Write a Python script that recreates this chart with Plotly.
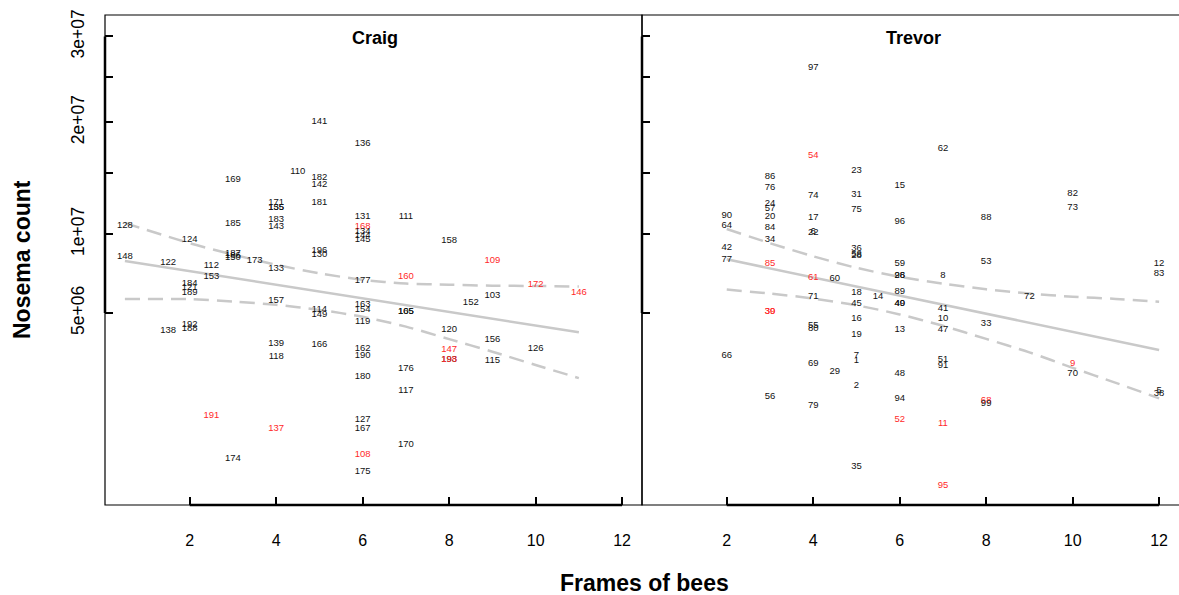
import numpy as np
import plotly.graph_objects as go

# ---- Craig apiary: colony id, frames of bees, Nosema count (millions) ----
craig_ids = [169, 171, 155, 135, 183, 143, 185, 128, 124, 148,
             122, 187, 186, 150, 173, 112, 153, 133, 184, 121,
             189, 157, 192, 188, 138, 139, 118, 191, 137, 174,
             141, 136, 110, 182, 142, 181, 131, 111, 168, 134,
             144, 145, 158, 196, 130, 177, 160, 163, 154, 114,
             149, 165, 105, 119, 166, 120, 147, 193, 198, 162,
             190, 176, 180, 117, 127, 167, 170, 108, 175, 109,
             172, 146, 103, 152, 156, 126, 115]
craig_frames = [3, 4, 4, 4, 4, 4, 3, 0.5, 2, 0.5,
                1.5, 3, 3, 3, 3.5, 2.5, 2.5, 4, 2, 2,
                2, 4, 2, 2, 1.5, 4, 4, 2.5, 4, 3,
                5, 6, 4.5, 5, 5, 5, 6, 7, 6, 6,
                6, 6, 8, 5, 5, 6, 7, 6, 6, 5,
                5, 7, 7, 6, 5, 8, 8, 8, 8, 6,
                6, 7, 6, 7, 6, 6, 7, 6, 6, 9,
                10, 11, 9, 8.5, 9, 10, 9]
craig_nosema_m = [14.40, 12.43, 12.06, 12.02, 11.06, 10.52, 10.75, 10.60, 9.557, 8.385,
                  7.963, 8.569, 8.433, 8.331, 8.096, 7.765, 7.082, 7.590, 6.676, 6.394,
                  6.119, 5.647, 4.423, 4.228, 4.099, 3.536, 2.970, 1.064, 0.781, 0.2746,
                  20.02, 17.81, 15.15, 14.64, 13.96, 12.45, 11.32, 11.32, 10.55, 10.15,
                  9.849, 9.608, 9.506, 8.776, 8.501, 6.835, 7.082, 5.426, 5.157, 5.157,
                  4.930, 5.067, 5.050, 4.552, 3.492, 4.147, 3.247, 2.838, 2.850, 3.289,
                  3.010, 2.494, 2.217, 1.755, 0.979, 0.767, 0.485, 0.3354, 0.1407, 8.116,
                  6.592, 6.101, 5.929, 5.536, 3.697, 3.302, 2.810]
craig_flagged = [191, 137, 168, 160, 147, 198, 108, 109, 172, 146]

# ---- Trevor apiary ----
trevor_ids = [97, 54, 86, 23, 76, 74, 31, 24, 57, 75,
              90, 20, 17, 64, 84, 22, 6, 34, 42, 36,
              58, 28, 77, 85, 61, 60, 18, 71, 45, 30,
              39, 16, 55, 80, 19, 66, 7, 1, 69, 29,
              2, 56, 79, 35, 62, 15, 96, 88, 59, 98,
              26, 8, 53, 89, 14, 40, 49, 41, 10, 33,
              47, 13, 51, 91, 48, 94, 68, 99, 52, 11,
              95, 82, 73, 12, 83, 72, 9, 70, 5, 38]
trevor_frames = [4, 4, 3, 5, 3, 4, 5, 3, 3, 5,
                 2, 3, 4, 2, 3, 4, 4, 3, 2, 5,
                 5, 5, 2, 3, 4, 4.5, 5, 4, 5, 3,
                 3, 5, 4, 4, 5, 2, 5, 5, 4, 4.5,
                 5, 3, 4, 5, 7, 6, 6, 8, 6, 6,
                 6, 7, 8, 6, 5.5, 6, 6, 7, 7, 8,
                 7, 6, 7, 7, 6, 6, 8, 8, 6, 7,
                 7, 10, 10, 12, 12, 9, 10, 10, 12, 12]
trevor_nosema_m = [26.17, 16.62, 14.70, 15.24, 13.72, 13.04, 13.10, 12.40, 11.96, 11.86,
                   11.40, 11.35, 11.27, 10.62, 10.47, 10.09, 10.15, 9.579, 9.035, 8.965,
                   8.501, 8.466, 8.162, 7.943, 7.020, 6.939, 6.142, 5.889, 5.520, 5.067,
                   5.050, 4.689, 4.354, 4.195, 3.911, 3.010, 2.998, 2.799, 2.709, 2.395,
                   1.914, 1.574, 1.320, 0.1882, 17.29, 13.87, 10.93, 11.24, 7.897, 7.170,
                   7.145, 7.145, 8.049, 6.177, 5.889, 5.520, 5.481, 5.210, 4.689, 4.473,
                   4.147, 4.147, 2.838, 2.606, 2.312, 1.507, 1.458, 1.385, 0.963, 0.873,
                   0.0445, 13.24, 12.04, 7.943, 7.296, 5.889, 2.709, 2.312, 1.761, 1.654]
trevor_flagged = [54, 85, 61, 30, 39, 68, 52, 11, 95, 9]

# ---- regression fit and confidence band (millions) ----
craig_band_x = [0.5, 2, 3, 4, 5, 6, 7, 8, 9, 10, 11]
craig_fit_m = [8.096, 7.429, 7.001, 6.586, 6.183, 5.798, 5.421, 5.056, 4.704, 4.364, 4.038]
craig_upper_m = [10.829, 9.326, 8.535, 7.844, 7.296, 6.890, 6.658, 6.592, 6.532, 6.514, 6.484]
craig_lower_m = [5.759, 5.748, 5.619, 5.437, 5.162, 4.801, 4.311, 3.724, 3.175, 2.644, 2.168]

trevor_band_x = [2, 3, 4, 5, 6, 7, 8, 9, 10, 11, 12]
trevor_fit_m = [8.209, 7.609, 7.038, 6.484, 5.952, 5.442, 4.961, 4.497, 4.057, 3.643, 3.247]
trevor_upper_m = [10.371, 9.326, 8.412, 7.648, 7.070, 6.658, 6.318, 6.072, 5.889, 5.765, 5.608]
trevor_lower_m = [6.300, 6.067, 5.787, 5.410, 4.925, 4.350, 3.733, 3.150, 2.538, 2.006, 1.527]

# ---- axes ----
x_ticks = [2, 4, 6, 8, 10, 12]
y_tick_counts = [5e6, 1e7, 1.5e7, 2e7, 2.5e7, 3e7]
y_tick_text = ["5e+06", "1e+07", "", "2e+07", "", "3e+07"]

W, H = 1179, 595
FONT = "Liberation Sans, Arial, Helvetica, sans-serif"
LINE_GREY = "#c9c9c9"


def sq(millions):
    """Square-root scale used on the vertical axis (input in millions)."""
    return np.sqrt(np.asarray(millions, dtype=float) * 1e6)


fig = go.Figure()

panels = [
    ("x", "y", craig_ids, craig_frames, craig_nosema_m, craig_flagged,
     craig_band_x, craig_fit_m, craig_upper_m, craig_lower_m),
    ("x2", "y2", trevor_ids, trevor_frames, trevor_nosema_m, trevor_flagged,
     trevor_band_x, trevor_fit_m, trevor_upper_m, trevor_lower_m),
]

for xa, ya, ids, frames, nos, flagged, bx, fit, up, lo in panels:
    for band in (up, lo):
        fig.add_trace(go.Scatter(
            x=bx, y=sq(band), xaxis=xa, yaxis=ya, mode="lines",
            line=dict(color=LINE_GREY, width=2.5, dash="15px,8px",
                      shape="spline", smoothing=0.8),
            hoverinfo="skip", showlegend=False))
    fig.add_trace(go.Scatter(
        x=bx, y=sq(fit), xaxis=xa, yaxis=ya, mode="lines",
        line=dict(color=LINE_GREY, width=2.5),
        hoverinfo="skip", showlegend=False))
    colors = ["#ff2a2a" if i in flagged else "#111111" for i in ids]
    fig.add_trace(go.Scatter(
        x=frames, y=sq(nos), xaxis=xa, yaxis=ya, mode="text",
        text=[str(i) for i in ids],
        textposition="middle center",
        textfont=dict(family=FONT, size=9.5, color=colors),
        hoverinfo="skip", showlegend=False, cliponaxis=False))

top_px, bottom_px = 15, 505
ydom = [(H - bottom_px) / H, (H - top_px) / H]
craig_dom = [105 / W, 642 / W]
trevor_dom = [642 / W, 1.0]
yrange = [-15, 5729]
xrange = [0.04, 12.46]

axis_common = dict(showgrid=False, zeroline=False, showline=False, automargin=False,
                   ticks="inside", ticklen=8, tickwidth=2, tickcolor="black")

fig.update_layout(
    template="none",
    width=W, height=H,
    margin=dict(l=0, r=0, t=0, b=0, pad=0),
    paper_bgcolor="white", plot_bgcolor="white",
    font=dict(family=FONT, color="black"),
    xaxis=dict(domain=craig_dom, range=xrange, anchor="y",
               tickvals=x_ticks, ticktext=[str(t) for t in x_ticks],
               tickfont=dict(size=16, color="black"), ticklabelstandoff=24,
               **axis_common),
    xaxis2=dict(domain=trevor_dom, range=xrange, anchor="y2",
                tickvals=x_ticks, ticktext=[str(t) for t in x_ticks],
                tickfont=dict(size=16, color="black"), ticklabelstandoff=24,
                **axis_common),
    yaxis=dict(domain=ydom, range=yrange, anchor="x",
               tickvals=list(np.sqrt(y_tick_counts)), ticktext=y_tick_text,
               tickangle=-90, tickfont=dict(size=17.5, color="black"),
               ticklabelstandoff=17, **axis_common),
    yaxis2=dict(domain=ydom, range=yrange, anchor="x2", matches="y",
                tickvals=list(np.sqrt(y_tick_counts)), showticklabels=False,
                **axis_common),
)

shapes = []
# thin panel frames
for dom in (craig_dom, [trevor_dom[0], 1.002]):
    shapes.append(dict(type="rect", xref="paper", yref="paper",
                       x0=dom[0], x1=dom[1], y0=ydom[0], y1=ydom[1],
                       line=dict(color="black", width=1.2)))
# heavier axis lines spanning the tick range
for xr, yr, dom in (("x", "y", craig_dom), ("x2", "y2", trevor_dom)):
    shapes.append(dict(type="line", xref=xr, yref="paper",
                       x0=x_ticks[0], x1=x_ticks[-1], y0=ydom[0], y1=ydom[0],
                       line=dict(color="black", width=2.5)))
    shapes.append(dict(type="line", xref="paper", yref=yr,
                       x0=dom[0], x1=dom[0],
                       y0=float(np.sqrt(y_tick_counts[0])),
                       y1=float(np.sqrt(y_tick_counts[-1])),
                       line=dict(color="black", width=2.5)))
fig.update_layout(shapes=shapes)

annotations = [
    dict(text="<b>Craig</b>", x=375 / W, y=(H - 38) / H),
    dict(text="<b>Trevor</b>", x=913 / W, y=(H - 38) / H),
]
for a in annotations:
    a.update(xref="paper", yref="paper", showarrow=False,
             xanchor="center", yanchor="middle",
             font=dict(family=FONT, size=18, color="black"))
annotations.append(dict(text="<b>Nosema count</b>", x=22 / W, y=(H - 260) / H,
                        xref="paper", yref="paper", showarrow=False, textangle=-90,
                        xanchor="center", yanchor="middle",
                        font=dict(family=FONT, size=23, color="black")))
annotations.append(dict(text="<b>Frames of bees</b>", x=645 / W, y=(H - 583) / H,
                        xref="paper", yref="paper", showarrow=False,
                        xanchor="center", yanchor="middle",
                        font=dict(family=FONT, size=23, color="black")))
fig.update_layout(annotations=annotations)

fig.write_html("out.html", config={"displayModeBar": False})
